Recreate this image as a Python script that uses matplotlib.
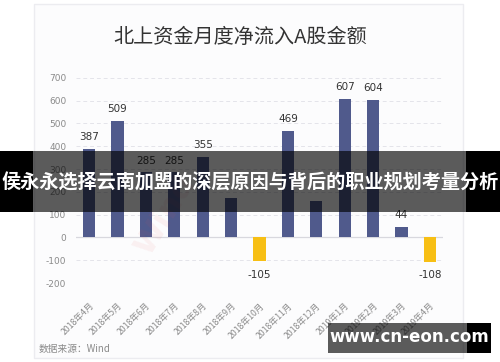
#!/usr/bin/env python3
"""北上资金月度净流入A股金额 - 柱状图."""

import matplotlib
matplotlib.use("Agg")
import matplotlib.pyplot as plt
from matplotlib.patches import Rectangle

plt.rcParams["font.family"] = ["Noto Sans CJK SC", "DejaVu Sans"]

MONTHS = ["2018年4月", "2018年5月", "2018年6月", "2018年7月", "2018年8月", "2018年9月",
          "2018年10月", "2018年11月", "2018年12月", "2019年1月", "2019年2月", "2019年3月",
          "2019年4月"]
INFLOW = [387, 509, 285, 285, 355, 175, -105, 469, 158, 607, 604, 44, -108]
SHOW_LABEL = [True, True, True, True, True, False, True, True, False, True, True, True, True]
YTICKS = [-200, -100, 0, 100, 200, 300, 400, 500, 600, 700]

TITLE = "北上资金月度净流入A股金额"
SOURCE = "数据来源：Wind"
BANNER = "侯永永选择云南加盟的深层原因与背后的职业规划考量分析"
SITE = "www.cn-eon.com"

BLUE = "#505a8c"
YELLOW = "#f7bf14"


def px(x, y):
    """像素坐标 -> figure 坐标"""
    return x / 500, 1 - y / 362


def main():
    fig = plt.figure(figsize=(5, 3.62), dpi=100)
    fig.patch.set_facecolor("white")

    # 卡片背景
    x0, y0 = px(34, 358)
    x1, y1 = px(463, 4)
    fig.patches.append(Rectangle((x0, y0), x1 - x0, y1 - y0, transform=fig.transFigure,
                                 facecolor="#fcfcfd", edgecolor="#ececf0", linewidth=1.0,
                                 zorder=-5))

    ax = fig.add_axes([0.152, 0.218, 0.734, 0.567])
    ax.set_facecolor("none")
    xs = range(len(MONTHS))
    colors = [BLUE if v >= 0 else YELLOW for v in INFLOW]
    ax.bar(xs, INFLOW, width=0.43, color=colors, zorder=3)

    for x, v, show in zip(xs, INFLOW, SHOW_LABEL):
        if not show:
            continue
        if v >= 0:
            ax.annotate(f"{v}", (x, v), xytext=(0, 5), textcoords="offset points",
                        ha="center", va="bottom", fontsize=7.5, color="#333333",
                        family="DejaVu Sans")
        else:
            ax.annotate(f"{v}", (x, v), xytext=(0, -6), textcoords="offset points",
                        ha="center", va="top", fontsize=7.5, color="#333333",
                        family="DejaVu Sans")

    ax.set_ylim(-200, 700)
    ax.set_xlim(-0.46, len(MONTHS) - 0.54)
    ax.set_yticks(YTICKS)
    ax.set_yticklabels([str(t) for t in YTICKS], fontsize=6.5, color="#8a8a8a",
                       family="DejaVu Sans")
    ax.set_xticks(list(xs))
    ax.set_xticklabels(MONTHS, rotation=45, ha="right", rotation_mode="anchor",
                       fontsize=6.3, color="#8a8a8a")
    ax.tick_params(axis="both", length=0)
    ax.tick_params(axis="y", pad=7)
    ax.tick_params(axis="x", pad=13)
    for t in YTICKS:
        if t == 0:
            ax.axhline(0, color="#d8d8de", linewidth=0.9, zorder=2)
        else:
            ax.axhline(t, color="#e4e4ea", linewidth=0.7, linestyle=(0, (4, 3)), zorder=1)
    for s in ax.spines.values():
        s.set_visible(False)

    # 标题 / 来源 / 水印
    fig.text(*px(240, 37), TITLE, ha="center", va="center", fontsize=14.5,
             color="#333333", fontweight="light")
    fig.text(*px(39, 349), SOURCE, ha="left", va="center", fontsize=7, color="#8a8a8a")
    fig.text(*px(165, 215), "Wind", ha="center", va="center", fontsize=22,
             color="#e05050", alpha=0.07, rotation=58, fontweight="bold",
             family="DejaVu Sans")

    # 中间横幅
    bx0, by0 = px(0, 212)
    bx1, by1 = px(500, 151)
    sx0, _ = px(33, 0)
    sx1, _ = px(466, 0)
    for a, b, alpha in [(bx0, sx0, 1.0), (sx0, sx1, 0.64), (sx1, bx1, 1.0)]:
        fig.patches.append(Rectangle((a, by0), b - a, by1 - by0, transform=fig.transFigure,
                                     facecolor="black", alpha=alpha, edgecolor="none",
                                     zorder=10))
    fig.text(*px(250, 183), BANNER, ha="center", va="center", fontsize=13.8,
             color="white", fontweight="bold", zorder=11)

    # 右下角网址
    wx0, wy0 = px(328, 353)
    wx1, wy1 = px(467, 323)
    wx2, _ = px(491, 0)
    fig.patches.append(Rectangle((wx0, wy0), wx1 - wx0, wy1 - wy0, transform=fig.transFigure,
                                 facecolor="black", alpha=0.64, edgecolor="none", zorder=10))
    fig.patches.append(Rectangle((wx1, wy0), wx2 - wx1, wy1 - wy0, transform=fig.transFigure,
                                 facecolor="black", edgecolor="none", zorder=10))
    fig.text(*px(409, 337), SITE, ha="center", va="center", fontsize=12,
             color="white", fontweight="bold", family="DejaVu Sans", zorder=11)

    fig.savefig("out.png", dpi=100, facecolor="white")
    plt.close(fig)


if __name__ == "__main__":
    main()
